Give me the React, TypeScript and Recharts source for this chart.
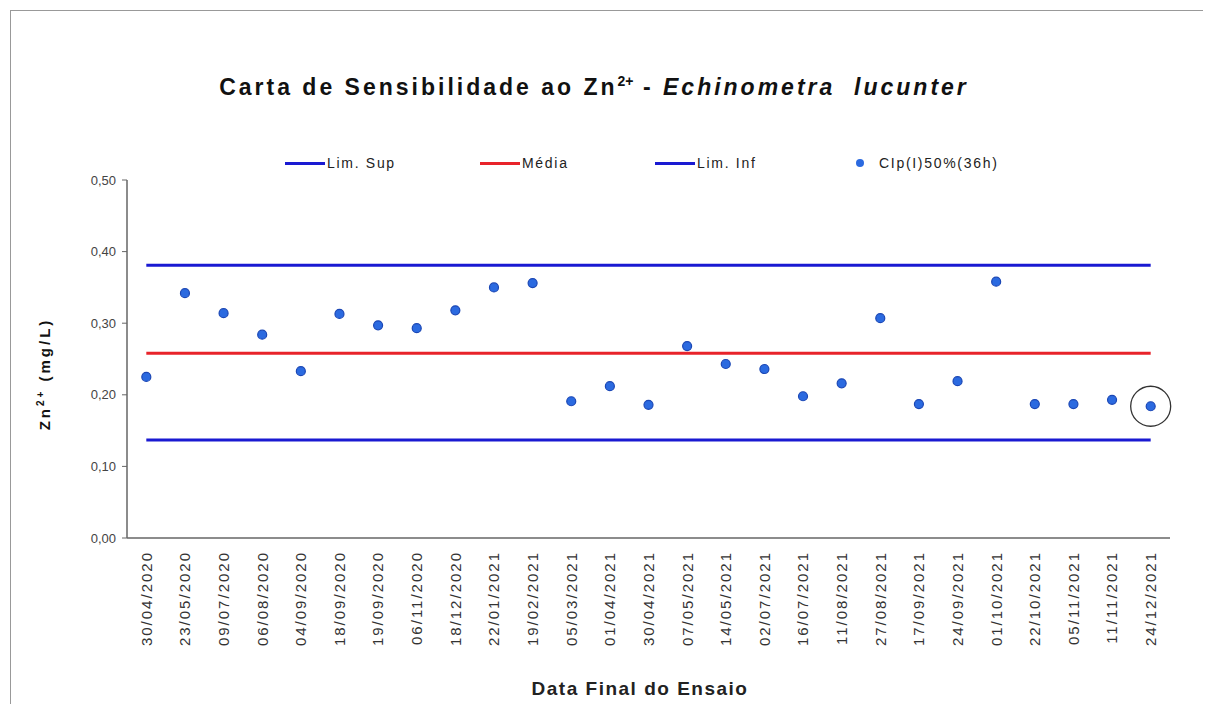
import React from 'react';
import { ComposedChart, Line, Scatter, XAxis, YAxis } from 'recharts';

const dates = [
  '30/04/2020', '23/05/2020', '09/07/2020', '06/08/2020', '04/09/2020', '18/09/2020',
  '19/09/2020', '06/11/2020', '18/12/2020', '22/01/2021', '19/02/2021', '05/03/2021',
  '01/04/2021', '30/04/2021', '07/05/2021', '14/05/2021', '02/07/2021', '16/07/2021',
  '11/08/2021', '27/08/2021', '17/09/2021', '24/09/2021', '01/10/2021', '22/10/2021',
  '05/11/2021', '11/11/2021', '24/12/2021',
];

const ciValues = [
  0.225, 0.342, 0.314, 0.284, 0.233, 0.313, 0.297, 0.293, 0.318, 0.350, 0.356, 0.191,
  0.212, 0.186, 0.268, 0.243, 0.236, 0.198, 0.216, 0.307, 0.187, 0.219, 0.358, 0.187,
  0.187, 0.193, 0.184,
];

const limSup = 0.381;
const media = 0.258;
const limInf = 0.137;

const yTicks = [0, 0.1, 0.2, 0.3, 0.4, 0.5];
const highlighted = '24/12/2021';

const data = dates.map((date, i) => ({
  x: i,
  date,
  ci: ciValues[i],
  sup: limSup,
  med: media,
  inf: limInf,
}));

const boundaryTicks = dates.map((_, i) => i - 0.5).concat(dates.length - 0.5);

const BLUE = '#1a1ad2';
const RED = '#e8232a';
const DOT = '#2b6ae0';
const FONT = 'Arial, "Liberation Sans", sans-serif';

// eslint-disable-next-line @typescript-eslint/no-explicit-any
const DateTick = (props: any) => {
  const { x, y, payload } = props;
  return (
    <g transform={`translate(${x},${y + 4})`}>
      <text
        transform="rotate(-90)"
        textAnchor="end"
        dy="0.36em"
        fontSize={15}
        fontFamily={FONT}
        fill="#333"
        letterSpacing={2}
      >
        {dates[payload.value]}
      </text>
    </g>
  );
};

// eslint-disable-next-line @typescript-eslint/no-explicit-any
const CiDot = (props: any) => {
  const { cx, cy, payload } = props;
  return (
    <g>
      <circle cx={cx} cy={cy} r={4.5} fill={DOT} stroke="#1b47b5" strokeWidth={1.2} />
      {payload.date === highlighted && (
        <circle cx={cx} cy={cy} r={20} fill="none" stroke="#333" strokeWidth={1.3} />
      )}
    </g>
  );
};

const legendText: React.CSSProperties = { fontSize: 14, color: '#222', letterSpacing: 1.7 };

const LegendLine = ({ color, label, left }: { color: string; label: string; left: number }) => (
  <div style={{ position: 'absolute', left, top: 141, height: 22, display: 'flex', alignItems: 'center' }}>
    <div style={{ width: 40, height: 3, background: color }} />
    <span style={{ ...legendText, marginLeft: 2 }}>{label}</span>
  </div>
);

export default function App() {
  return (
    <div
      style={{
        position: 'relative',
        marginLeft: 2,
        marginTop: 2,
        width: 1193,
        height: 720,
        border: '1px solid #999',
        fontFamily: FONT,
        overflow: 'hidden',
      }}
    >
      <div
        style={{
          position: 'absolute',
          top: 62,
          left: 0,
          width: 1166,
          textAlign: 'center',
          fontSize: 23,
          fontWeight: 'bold',
          color: '#111',
          letterSpacing: 3,
          whiteSpace: 'nowrap',
        }}
      >
        Carta de Sensibilidade ao Zn<sup style={{ fontSize: 14, letterSpacing: 0 }}>2+</sup> -{' '}
        <i>Echinometra&nbsp; lucunter</i>
      </div>

      <LegendLine color={BLUE} label="Lim. Sup" left={274} />
      <LegendLine color={RED} label="Média" left={469} />
      <LegendLine color={BLUE} label="Lim. Inf" left={644} />
      <div style={{ position: 'absolute', left: 845, top: 141, height: 22, display: 'flex', alignItems: 'center' }}>
        <div style={{ width: 8, height: 8, borderRadius: 4, background: DOT }} />
        <span style={{ ...legendText, marginLeft: 15 }}>CIp(I)50%(36h)</span>
      </div>

      <div
        style={{
          position: 'absolute',
          left: 33,
          top: 363,
          transform: 'translate(-50%, -50%) rotate(-90deg)',
          fontSize: 15,
          fontWeight: 'bold',
          whiteSpace: 'nowrap',
          letterSpacing: 3,
          color: '#111',
        }}
      >
        Zn<sup style={{ fontSize: 10 }}>2+</sup> (mg/L)
      </div>

      <div
        style={{
          position: 'absolute',
          left: 0,
          width: 1258,
          top: 667,
          textAlign: 'center',
          fontSize: 19,
          fontWeight: 'bold',
          letterSpacing: 1.5,
          color: '#222',
          whiteSpace: 'nowrap',
        }}
      >
        Data Final do Ensaio
      </div>

      <div style={{ position: 'absolute', left: 0, top: 0 }}>
        <ComposedChart
          width={1190}
          height={690}
          data={data}
          margin={{ top: 169, right: 31, left: 56, bottom: 73 }}
        >
          {/* tick marks sit on the category boundaries, labels on the centres */}
          <XAxis
            type="number"
            dataKey="x"
            domain={[-0.5, dates.length - 0.5]}
            ticks={boundaryTicks}
            interval={0}
            height={1}
            tick={false}
            tickSize={5}
            axisLine={{ stroke: '#666', strokeWidth: 1.5 }}
            tickLine={{ stroke: '#666' }}
          />
          <XAxis
            xAxisId="labels"
            type="number"
            dataKey="x"
            domain={[-0.5, dates.length - 0.5]}
            ticks={dates.map((_, i) => i)}
            interval={0}
            height={89}
            axisLine={false}
            tickLine={false}
            tick={<DateTick />}
          />
          <YAxis
            type="number"
            domain={[0, 0.5]}
            ticks={yTicks}
            width={60}
            tickSize={5}
            tickMargin={6}
            axisLine={{ stroke: '#666', strokeWidth: 1.5 }}
            tickLine={{ stroke: '#666' }}
            tick={{ fontSize: 13, fill: '#444', fontFamily: FONT }}
            tickFormatter={(v: number) => v.toFixed(2).replace('.', ',')}
          />
          <Line dataKey="sup" stroke={BLUE} strokeWidth={3} dot={false} isAnimationActive={false} />
          <Line dataKey="med" stroke={RED} strokeWidth={3} dot={false} isAnimationActive={false} />
          <Line dataKey="inf" stroke={BLUE} strokeWidth={3} dot={false} isAnimationActive={false} />
          <Scatter dataKey="ci" shape={<CiDot />} isAnimationActive={false} />
        </ComposedChart>
      </div>
    </div>
  );
}
